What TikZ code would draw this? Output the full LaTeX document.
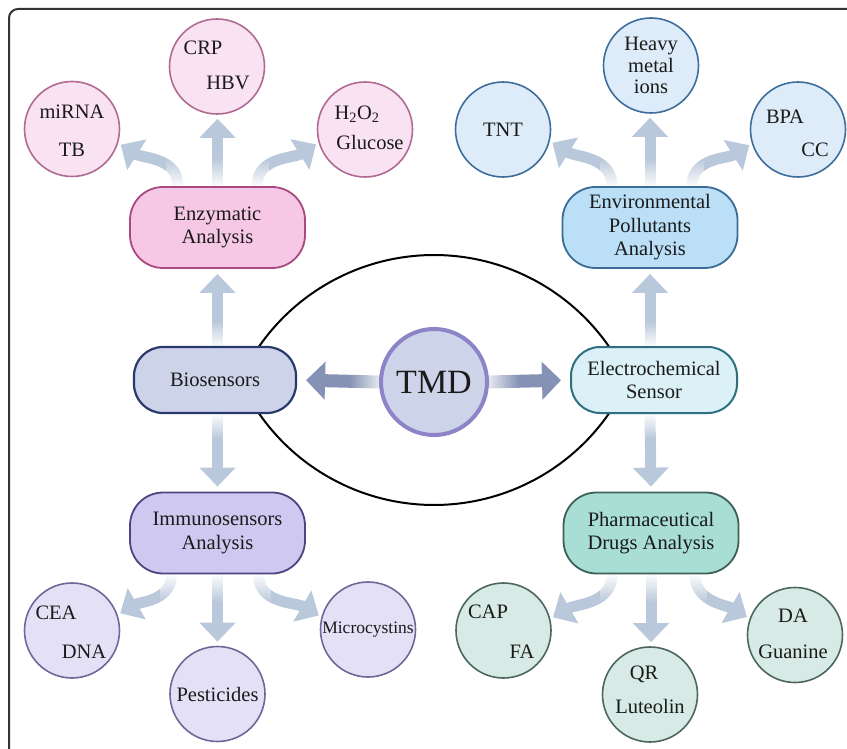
\documentclass[tikz,border=0pt]{standalone}
\usepackage{fontspec}
\setmainfont{Liberation Serif}
\usetikzlibrary{arrows.meta,fadings,calc,backgrounds}
\definecolor{arr}{HTML}{B9C8DA}
\definecolor{arrd}{HTML}{8591B5}
\definecolor{enzF}{HTML}{F6C8E6}\definecolor{enzD}{HTML}{A8497F}
\definecolor{pkF}{HTML}{F9E2F1}\definecolor{pkD}{HTML}{B06A93}
\definecolor{envF}{HTML}{BADFF7}\definecolor{envD}{HTML}{3A6C96}
\definecolor{blF}{HTML}{DDECF8}\definecolor{blD}{HTML}{3D6E9B}
\definecolor{bioF}{HTML}{CDD4E9}\definecolor{bioD}{HTML}{273A6B}
\definecolor{tmdF}{HTML}{CDD3E8}\definecolor{tmdD}{HTML}{8C84C6}
\definecolor{elF}{HTML}{DCF1F7}\definecolor{elD}{HTML}{2F7080}
\definecolor{imF}{HTML}{CFC8F0}\definecolor{imD}{HTML}{4D4580}
\definecolor{puF}{HTML}{E4E0F6}\definecolor{puD}{HTML}{6E6799}
\definecolor{phF}{HTML}{A8DED3}\definecolor{phD}{HTML}{3E5F5A}
\definecolor{grF}{HTML}{D7EAE5}\definecolor{grD}{HTML}{4C6660}
\definecolor{txt}{HTML}{1A1A1A}
\tikzfading[name=fadeN, top color=transparent!100, bottom color=transparent!0]
\tikzfading[name=fadeS, top color=transparent!0, bottom color=transparent!100]
\tikzfading[name=fadeW, left color=transparent!100, right color=transparent!0]
\tikzfading[name=fadeE, left color=transparent!0, right color=transparent!100]
\begin{document}
\begin{tikzpicture}[x=1pt,y=1pt,
  txtfont/.style={font=\fontsize{20.5}{23.5}\selectfont, text=txt},
  box/.style={draw, rounded corners=33pt, line width=1.8pt, minimum width=175pt,
    minimum height=81pt, align=center, inner sep=2pt, txtfont},
  smallbox/.style={box, rounded corners=29pt, minimum height=66pt, line width=2.2pt},
  circ/.style={circle, draw, line width=1.6pt, minimum size=95pt, inner sep=0pt,
    align=center, txtfont},
  lbl/.style={inner sep=0pt, text height=13.5pt, text depth=0pt, txtfont},
  fat/.style={draw=arr, line width=11pt, -{Triangle[width=35pt,length=19pt]}},
  fatd/.style={draw=arrd, line width=13pt, -{Triangle[width=37pt,length=19pt]}},
  wfade/.style={fill=white, draw=none}
]
\useasboundingbox (0,0) rectangle (847,-749);
\begin{scope}
\clip (0,0) rectangle (847,-749);
\draw[line width=2pt, draw=black!80, rounded corners=9pt] (9,-9) rectangle (900,-800);
\end{scope}

% lens
\draw[line width=2pt] plot[domain=-65.6:65.6, samples=90] ({434+213*sin(\x)},{-468+213*cos(\x)});
\draw[line width=2pt] plot[domain=-65.6:65.6, samples=90] ({434+213*sin(\x)},{-292-213*cos(\x)});

% boxes
\node[box, fill=enzF, draw=enzD] (enz) at (217.5,-227.5) {Enzymatic\\Analysis};
\node[box, fill=envF, draw=envD] (env) at (650,-227.5) {Environmental\\Pollutants\\Analysis};
\node[smallbox, fill=bioF, draw=bioD, minimum width=162pt] (bio) at (215,-380) {Biosensors};
\node[smallbox, fill=elF, draw=elD, minimum width=166pt, line width=2pt] (elec) at (654,-380) {Electrochemical\\Sensor};
\node[box, fill=imF, draw=imD] (imm) at (217.5,-533) {Immunosensors\\Analysis};
\node[box, fill=phF, draw=phD] (pharm) at (651,-533) {Pharmaceutical\\Drugs Analysis};
\node[circle, draw=tmdD, fill=tmdF, line width=4pt, minimum size=106pt, inner sep=0pt,
  font=\fontsize{34}{40}\selectfont, text=txt] (tmd) at (434,-382) {TMD};

% circles
\node[circ, fill=pkF, draw=pkD] (mirna) at (72,-129) {};
\node[circ, fill=pkF, draw=pkD] (crp) at (217,-66.5) {};
\node[circ, fill=pkF, draw=pkD] (hoo) at (365,-129.5) {};
\node[circ, fill=blF, draw=blD] (tnt) at (503,-129.5) {TNT};
\node[circ, fill=blF, draw=blD, font=\fontsize{20.5}{21.5}\selectfont] (hvy) at (651,-65.5) {Heavy\\metal\\ions};
\node[circ, fill=blF, draw=blD] (bpa) at (798,-129.5) {};
\node[circ, fill=puF, draw=puD] (cea) at (72,-630.5) {};
\node[circ, fill=puF, draw=puD] (pest) at (217.5,-694) {Pesticides};
\node[circ, fill=puF, draw=puD, font=\fontsize{17.5}{20}\selectfont] (micro) at (368,-629.5) {Microcystins};
\node[circ, fill=grF, draw=grD] (cap) at (503.5,-630.5) {};
\node[circ, fill=grF, draw=grD] (qr) at (650,-694.5) {};
\node[circ, fill=grF, draw=grD] (da) at (795,-635) {};

% labels in circles
\node[lbl] (mirnaA) at ($(mirna)+(0,17)$) {miRNA};
\node[lbl] (mirnaB) at ($(mirna)+(0,-21)$) {TB};
\node[lbl] (crpA) at ($(crp)+(-14,18.5)$) {CRP};
\node[lbl] (crpB) at ($(crp)+(11,-16.5)$) {HBV};
\node[lbl] (hooA) at ($(hoo)+(-8,16.5)$) {H\textsubscript{2}O\textsubscript{2}};
\node[lbl] (hooB) at ($(hoo)+(5,-13.5)$) {Glucose};
\node[lbl] (bpaA) at ($(bpa)+(-13,12.5)$) {BPA};
\node[lbl] (bpaB) at ($(bpa)+(17,-20.5)$) {CC};
\node[lbl] (ceaA) at ($(cea)+(-16,17.5)$) {CEA};
\node[lbl] (ceaB) at ($(cea)+(12,-21.5)$) {DNA};
\node[lbl] (capA) at ($(cap)+(-15.5,18.5)$) {CAP};
\node[lbl] (capB) at ($(cap)+(18.5,-21.5)$) {FA};
\node[lbl] (qrA) at ($(qr)+(-6,21.5)$) {QR};
\node[lbl] (qrB) at ($(qr)+(0,-12.5)$) {Luteolin};
\node[lbl] (daA) at ($(da)+(-2,19)$) {DA};
\node[lbl] (daB) at ($(da)+(-2,-17)$) {Guanine};

% ---- arrows (behind nodes) ----
\begin{scope}[on background layer]
% top left group
\draw[fat, shorten >=4pt] (enz.north) -- (enz.north |- crp.south);
\draw[fat, shorten >=3pt] ([xshift=-39.5pt]enz.north) to[out=90,in=-32] (mirna.-17);
\draw[fat, shorten >=3pt] ([xshift=39.5pt]enz.north) to[out=90,in=212] (hoo.196);
% top right group
\draw[fat, shorten >=4pt] (env.north) -- (env.north |- hvy.south);
\draw[fat, shorten >=3pt] ([xshift=-38pt]env.north) to[out=90,in=-32] (tnt.-14);
\draw[fat, shorten >=3pt] ([xshift=42pt]env.north) to[out=90,in=212] (bpa.197);
% bottom left group
\draw[fat, shorten >=4pt] (imm.south) -- (imm.south |- pest.north);
\draw[fat, shorten >=3pt] ([xshift=-46pt]imm.south) to[out=-90,in=30] (cea.19);
\draw[fat, shorten >=3pt] ([xshift=41pt]imm.south) to[out=-90,in=150] (micro.165);
% bottom right group
\draw[fat, shorten >=4pt] (pharm.south) -- (pharm.south |- qr.north);
\draw[fat, shorten >=3pt] ([xshift=-39pt]pharm.south) to[out=-90,in=30] (cap.14);
\draw[fat, shorten >=3pt] ([xshift=44pt]pharm.south) to[out=-90,in=150] (da.160);
% middle verticals
\draw[fat, shorten >=5pt] (enz.south |- bio.north) -- (enz.south);
\draw[fat, shorten >=5pt] (enz.south |- bio.south) -- (imm.north);
\draw[fat, shorten >=5pt] (env.south |- elec.north) -- (env.south);
\draw[fat, shorten >=5pt] (env.south |- elec.south) -- (pharm.north);
% TMD arrows
\draw[fatd, shorten >=9pt] (tmd.west) -- (bio.east);
\draw[fatd, shorten >=9pt] (tmd.east) -- (elec.west);

% fades at the tails
\foreach \n/\dx in {enz/0, enz/-39.5, enz/39.5, env/0, env/-38, env/42}{
  \fill[wfade, path fading=fadeN] ($(\n.north)+(\dx-12,-1)$) rectangle ($(\n.north)+(\dx+12,28)$);
}
\foreach \n/\dx in {imm/0, imm/-46, imm/41, pharm/0, pharm/-39, pharm/44}{
  \fill[wfade, path fading=fadeS] ($(\n.south)+(\dx-12,1)$) rectangle ($(\n.south)+(\dx+12,-28)$);
}
\fill[wfade, path fading=fadeN] ($(enz.south |- bio.north)+(-9,-1)$) rectangle ($(enz.south |- bio.north)+(9,25)$);
\fill[wfade, path fading=fadeN] ($(env.south |- elec.north)+(-9,-1)$) rectangle ($(env.south |- elec.north)+(9,25)$);
\fill[wfade, path fading=fadeS] ($(enz.south |- bio.south)+(-9,1)$) rectangle ($(enz.south |- bio.south)+(9,-25)$);
\fill[wfade, path fading=fadeS] ($(env.south |- elec.south)+(-9,1)$) rectangle ($(env.south |- elec.south)+(9,-25)$);
\fill[wfade, path fading=fadeW] ($(tmd.west)+(-30,-10)$) rectangle ($(tmd.west)+(8,10)$);
\fill[wfade, path fading=fadeE] ($(tmd.east)+(-8,-10)$) rectangle ($(tmd.east)+(30,10)$);
\end{scope}
\end{tikzpicture}
\end{document}
